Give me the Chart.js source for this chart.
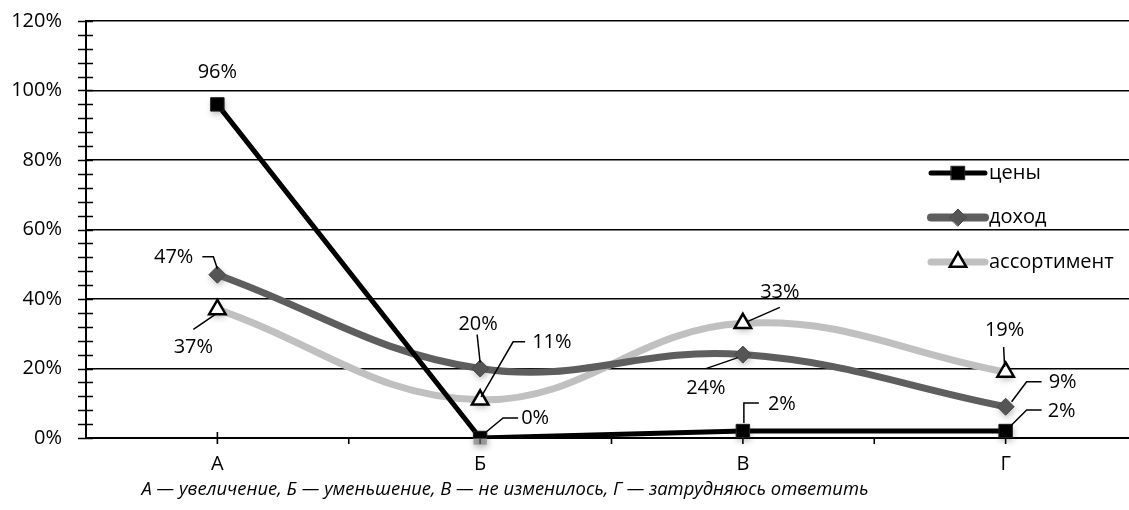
<!DOCTYPE html>
<html><head><meta charset="utf-8">
<script src="https://cdn.jsdelivr.net/npm/chart.js@4.4.1/dist/chart.umd.min.js"></script>
<style>
html,body{margin:0;padding:0;overflow:hidden;background:#fff}
#wrap{position:relative;width:1149px;height:510px}
</style>
</head><body><div id="wrap"><canvas id="c"></canvas></div>
<script>
// ---- data ----
const categories = ['А', 'Б', 'В', 'Г'];
const seriesNames = ['цены', 'доход', 'ассортимент'];
const prices = [96, 0, 2, 2];
const income = [47, 20, 24, 9];
const assortment = [37, 11, 33, 19];
const yMin = 0, yMax = 120, yStep = 4, yLabelStep = 20;
const caption = 'А — увеличение, Б — уменьшение, В — не изменилось, Г — затрудняюсь ответить';

// ---- label placement (relative to each point, px) ----
const labelLayout = [
  [ {dx:0, dy:-32, align:'center'},
    {dx:41, dy:-20, align:'left', leader:[[6,-6],[23,-20],[38,-20]]},
    {dx:25, dy:-27, align:'left', leader:[[1,-8],[1,-28],[16,-28]]},
    {dx:42, dy:-20, align:'left', leader:[[6,-6],[21,-21],[36,-21]]} ],
  [ {dx:-24, dy:-17, align:'right', leader:[[-15,-18],[-4,-18],[0,-6]]},
    {dx:-2, dy:-44, align:'center', leader:[[-3,-34],[0,-6]]},
    {dx:-37, dy:34, align:'center', leader:[[-5,3],[-37,14]]},
    {dx:43, dy:-24, align:'left', leader:[[6,-5],[21,-25],[36,-25]]} ],
  [ {dx:-24, dy:38, align:'center', leader:[[-2,5],[-24,20]]},
    {dx:52, dy:-57, align:'left', leader:[[1,-3],[33,-58],[45,-58]]},
    {dx:37, dy:-31, align:'center', leader:[[5,-2],[37,-16]]},
    {dx:-1, dy:-42, align:'center', leader:[[-2,-25],[-1,-5]]} ]
];

const FONT = '"Open Sans", "Noto Sans", sans-serif';

function markerPath(ctx, style, x, y, r) {
  ctx.beginPath();
  if (style === 'rect') {
    const s = r * Math.SQRT1_2;
    ctx.rect(x - s, y - s, 2 * s, 2 * s);
  } else if (style === 'rectRot') {
    ctx.moveTo(x - r, y); ctx.lineTo(x, y - r); ctx.lineTo(x + r, y); ctx.lineTo(x, y + r);
    ctx.closePath();
  } else {
    for (let k = 0; k < 3; k++) {
      const a = k * 2 * Math.PI / 3;
      const px = x + Math.sin(a) * r, py = y - Math.cos(a) * r;
      if (k === 0) ctx.moveTo(px, py); else ctx.lineTo(px, py);
    }
    ctx.closePath();
  }
}
function drawMarker(ctx, style, x, y, r, fill, stroke, bw) {
  ctx.save();
  markerPath(ctx, style, x, y, r);
  ctx.fillStyle = fill; ctx.fill();
  ctx.lineWidth = bw; ctx.strokeStyle = stroke; ctx.stroke();
  ctx.restore();
}

const axisTicks = {
  id: 'axisTicks',
  beforeDatasetsDraw(chart) {
    const {ctx, scales: {x, y}, chartArea} = chart;
    ctx.save();
    ctx.strokeStyle = '#000';
    ctx.lineWidth = 1.6;
    ctx.beginPath();
    for (let v = yMin; v <= yMax; v += yStep) {
      const py = Math.round(y.getPixelForValue(v)) + 0.5;
      ctx.moveTo(chartArea.left - 8, py); ctx.lineTo(chartArea.left + 7, py);
    }
    const y0 = y.getPixelForValue(0);
    for (let i = 0; i < categories.length; i++) {
      const px = x.getPixelForValue(i);
      ctx.moveTo(px, y0 - 6); ctx.lineTo(px, y0 + 6);
      if (i < categories.length - 1) {
        const pb = (px + x.getPixelForValue(i + 1)) / 2;
        ctx.moveTo(pb, y0); ctx.lineTo(pb, y0 + 6);
      }
    }
    ctx.stroke();
    ctx.restore();
  },
  beforeDatasetDraw(chart, args) {
    // soft shadow under markers
    const {ctx} = chart;
    const ds = chart.data.datasets[args.index];
    ctx.save();
    ctx.shadowColor = 'rgba(0,0,0,0.45)';
    ctx.shadowBlur = 6;
    ctx.shadowOffsetX = 1;
    ctx.shadowOffsetY = 3;
    args.meta.data.forEach(pt => {
      markerPath(ctx, ds.pointStyle, pt.x, pt.y, ds.pointRadius);
      ctx.fillStyle = 'rgba(120,120,120,0.6)';
      ctx.fill();
    });
    ctx.restore();
  },
  afterDatasetsDraw(chart) {
    const {ctx, chartArea} = chart;
    ctx.save();
    ctx.font = '20px ' + FONT;
    ctx.textBaseline = 'middle';
    chart.data.datasets.forEach((ds, di) => {
      const meta = chart.getDatasetMeta(di);
      meta.data.forEach((pt, i) => {
        const L = labelLayout[di][i];
        if (L.leader) {
          ctx.beginPath();
          ctx.strokeStyle = '#000'; ctx.lineWidth = 1.5;
          L.leader.forEach((p, k) => {
            if (k === 0) ctx.moveTo(pt.x + p[0], pt.y + p[1]); else ctx.lineTo(pt.x + p[0], pt.y + p[1]);
          });
          ctx.stroke();
        }
        ctx.fillStyle = '#000';
        ctx.textAlign = L.align;
        ctx.fillText(ds.data[i] + '%', pt.x + L.dx, pt.y + L.dy);
      });
    });
    // legend
    const lx = 928, ly = chartArea.top + 152, gap = 44.5;
    chart.data.datasets.forEach((ds, di) => {
      const yy = ly + di * gap;
      ctx.beginPath();
      ctx.strokeStyle = ds.borderColor; ctx.lineWidth = ds.legendLineWidth; ctx.lineCap = 'round';
      ctx.moveTo(lx + 3, yy); ctx.lineTo(lx + 57, yy); ctx.stroke();
      drawMarker(ctx, ds.pointStyle, lx + 30, yy, ds.pointRadius, ds.pointBackgroundColor, ds.pointBorderColor, ds.pointBorderWidth);
      ctx.fillStyle = '#000'; ctx.textAlign = 'left';
      ctx.fillText(ds.label, lx + 61, yy);
    });
    // caption
    ctx.font = 'italic 18.4px ' + FONT;
    ctx.textAlign = 'center';
    ctx.fillText(caption, 505, chartArea.bottom + 52);
    ctx.restore();
  }
};

new Chart(document.getElementById('c'), {
  type: 'line',
  data: {
    labels: categories,
    datasets: [
      { label: seriesNames[0], data: prices, borderColor: '#000', borderWidth: 5, tension: 0,
        pointStyle: 'rect', pointRadius: 9.5, pointBackgroundColor: '#000', pointBorderColor: '#222', pointBorderWidth: 1,
        legendLineWidth: 5 },
      { label: seriesNames[1], data: income, borderColor: '#5e5e5e', borderWidth: 7, tension: 0.4,
        pointStyle: 'rectRot', pointRadius: 8.5, pointBackgroundColor: '#555', pointBorderColor: '#4a4a4a', pointBorderWidth: 1,
        legendLineWidth: 8 },
      { label: seriesNames[2], data: assortment, borderColor: '#c0c0c0', borderWidth: 7, tension: 0.4,
        pointStyle: 'triangle', pointRadius: 9.5, pointBackgroundColor: '#fff', pointBorderColor: '#000', pointBorderWidth: 2.5,
        legendLineWidth: 7 }
    ]
  },
  options: {
    responsive: true, maintainAspectRatio: false, animation: false,
    layout: { padding: { top: 21, right: 0, left: 0, bottom: 0 } },
    plugins: { legend: { display: false }, tooltip: { enabled: false } },
    scales: {
      x: {
        offset: true,
        grid: { display: false, drawTicks: false },
        border: { display: true, color: '#000', width: 2 },
        ticks: { color: '#000', font: { family: FONT, size: 20 }, padding: 14 },
        afterFit(s) { s.height = 72; }
      },
      y: {
        min: yMin, max: yMax,
        grid: { drawTicks: false, lineWidth: 1.6,
          color: c => (c.tick && c.tick.value % yLabelStep === 0) ? '#000' : 'rgba(0,0,0,0)' },
        border: { display: true, color: '#000', width: 2 },
        ticks: { stepSize: yStep, maxTicksLimit: 100, autoSkip: false, color: '#000', padding: 24,
          font: { family: FONT, size: 20 },
          callback: v => (v % yLabelStep === 0 ? v + '%' : '') },
        afterFit(s) { s.width = 86; s.paddingTop = 0; s.paddingBottom = 0; }
      }
    }
  },
  plugins: [axisTicks]
});
</script>
</body></html>
